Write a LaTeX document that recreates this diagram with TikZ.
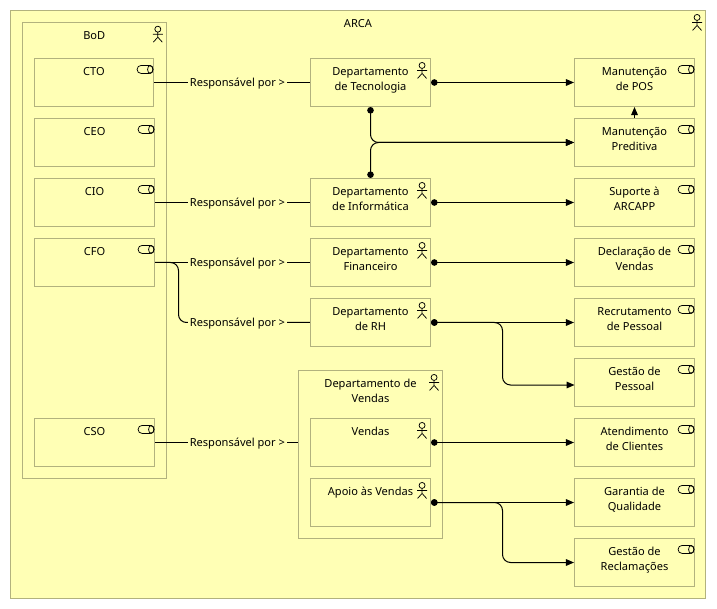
\documentclass[tikz,border=0pt]{standalone}
\usepackage{fontspec}
\setmainfont{Noto Sans}
\usetikzlibrary{arrows.meta}
\definecolor{ayellow}{HTML}{FFFFB5}
\definecolor{aedge}{HTML}{B2B27E}
\tikzset{
  % Yellow element box, 120 x 48 px unless widened.
  bx/.style    = {rectangle, draw=aedge, fill=ayellow, line width=0.85pt,
                  minimum width=90pt, minimum height=36pt, inner sep=0pt},
  ttl/.style   = {anchor=north, inner sep=0pt, yshift=-5.25pt, align=center,
                  font=\fontsize{8.3}{11.25}\selectfont, execute at begin node=\strut},
  two/.style   = {yshift=-1.5pt},
  rel/.style   = {fill=ayellow, inner xsep=1.5pt, inner ysep=1pt, yshift=-0.9pt,
                  font=\fontsize{8.3}{11.25}\selectfont},
  lnk/.style   = {line width=0.75pt, black},
  flow/.style  = {{Circle[length=4.9pt]}-{Triangle[length=6pt,width=5pt]}, lnk},
  icon/.style  = {line width=0.55pt, black},
  actor/.pic   = {
    \draw[icon] (-9,7.5) circle (3);
    \draw[icon] (-9,10.5) -- (-9,15.5) (-14,12.5) -- (-4,12.5)
                (-13.5,20.5) -- (-9,15.5) -- (-4.5,20.5);
  },
  svc/.pic     = {
    \draw[icon, rounded corners=3pt] (-17,7.5) rectangle (-1,15.5);
    \draw[icon] (-3.8,11.5) ellipse (2.7 and 4);
  },
}
\begin{document}
\begin{tikzpicture}[x=0.75pt,y=-0.75pt]
\useasboundingbox (0,0) rectangle (717,609);
% outer group
\node[bx, minimum width=521.25pt, minimum height=441pt] (arca) at (358,304.5) {};
\node[ttl] (arcaT) at (arca.north) {ARCA};
\pic at (arca.north east) {actor};
% board
\node[bx, minimum width=108pt, minimum height=342pt] (bod) at (94.25,250.25) {};
\node[ttl] (bodT) at (bod.north) {BoD};
\pic at (bod.north east) {actor};
\node[bx, minimum width=89.25pt] (cto) at (94,82.5) {};
\node[ttl] (ctoT) at (cto.north) {CTO};
\pic at (cto.north east) {svc};
\node[bx] (ceo) at (94.5,142.5) {};
\node[ttl] (ceoT) at (ceo.north) {CEO};
\pic at (ceo.north east) {svc};
\node[bx] (cio) at (94.5,202.5) {};
\node[ttl] (cioT) at (cio.north) {CIO};
\pic at (cio.north east) {svc};
\node[bx] (cfo) at (94.5,262.5) {};
\node[ttl] (cfoT) at (cfo.north) {CFO};
\pic at (cfo.north east) {svc};
\node[bx] (cso) at (94.5,442.5) {};
\node[ttl] (csoT) at (cso.north) {CSO};
\pic at (cso.north east) {svc};
% departments
\node[bx] (tec) at (370.5,82.5) {};
\node[ttl, two] (tecT) at (tec.north) {Departamento\\de Tecnologia};
\pic at (tec.north east) {actor};
\node[bx] (inf) at (370.5,202.5) {};
\node[ttl, two] (infT) at (inf.north) {Departamento\\de Informática};
\pic at (inf.north east) {actor};
\node[bx] (fin) at (370.5,262.5) {};
\node[ttl, two] (finT) at (fin.north) {Departamento\\Financeiro};
\pic at (fin.north east) {actor};
\node[bx] (rh) at (370.5,322.5) {};
\node[ttl, two] (rhT) at (rh.north) {Departamento\\de RH};
\pic at (rh.north east) {actor};
\node[bx, minimum width=108pt, minimum height=126pt] (dven) at (370.5,454.5) {};
\node[ttl, two] (dvenT) at (dven.north) {Departamento de\\Vendas};
\pic at (dven.north east) {actor};
\node[bx] (ven) at (370.5,442.5) {};
\node[ttl] (venT) at (ven.north) {Vendas};
\pic at (ven.north east) {actor};
\node[bx] (apo) at (370.5,502.5) {};
\node[ttl] (apoT) at (apo.north) {Apoio às Vendas};
\pic at (apo.north east) {actor};
% services
\node[bx] (pos) at (634.5,82.5) {};
\node[ttl, two] (posT) at (pos.north) {Manutenção\\de POS};
\pic at (pos.north east) {svc};
\node[bx] (pre) at (634.5,142.5) {};
\node[ttl, two] (preT) at (pre.north) {Manutenção\\Preditiva};
\pic at (pre.north east) {svc};
\node[bx] (sup) at (634.5,202.5) {};
\node[ttl, two] (supT) at (sup.north) {Suporte à\\ARCAPP};
\pic at (sup.north east) {svc};
\node[bx] (dec) at (634.5,262.5) {};
\node[ttl, two] (decT) at (dec.north) {Declaração de\\Vendas};
\pic at (dec.north east) {svc};
\node[bx] (rec) at (634.5,322.5) {};
\node[ttl, two] (recT) at (rec.north) {Recrutamento\\de Pessoal};
\pic at (rec.north east) {svc};
\node[bx] (ges) at (634.5,382.5) {};
\node[ttl, two] (gesT) at (ges.north) {Gestão de\\Pessoal};
\pic at (ges.north east) {svc};
\node[bx] (ate) at (634.5,442.5) {};
\node[ttl, two] (ateT) at (ate.north) {Atendimento\\de Clientes};
\pic at (ate.north east) {svc};
\node[bx] (gar) at (634.5,502.5) {};
\node[ttl, two] (garT) at (gar.north) {Garantia de\\Qualidade};
\pic at (gar.north east) {svc};
\node[bx] (rcl) at (634.5,562.5) {};
\node[ttl, two] (rclT) at (rcl.north) {Gestão de\\Reclamações};
\pic at (rcl.north east) {svc};
% responsibility lines
\draw[lnk] (cto.east) -- node[rel, pos=.535] (relTec) {Responsável por >} (tec.west);
\draw[lnk] (cio.east) -- node[rel, pos=.532] (relInf) {Responsável por >} (inf.west);
\draw[lnk] (cfo.east) -- (fin.west);
\coordinate (cfoBend) at (178.5,292);
\draw[lnk, rounded corners=6pt] (cfo.east) -| (cfoBend) |- (rh.west);
\node[rel] (relFin) at (237.5,262.5) {Responsável por >};
\node[rel] (relRh) at (237.5,322.5) {Responsável por >};
\draw[lnk] (cso.east) -- node[rel, pos=.576] (relVen) {Responsável por >} (cso.east -| dven.west);
% flows
\draw[flow] (tec.east) -- (pos.west);
\draw[flow, rounded corners=6pt] (tec.south) |- (pre.west);
\draw[flow, rounded corners=6pt] (inf.north) |- (pre.west);
\draw[-{Triangle[length=6pt,width=5pt]}, lnk] (pre.north) -- (pos.south);
\draw[flow] (inf.east) -- (sup.west);
\draw[flow] (fin.east) -- (dec.west);
\draw[flow] (rh.east) -- (rec.west);
\coordinate (rhBend) at (502.5,350);
\coordinate (gesIn) at (574.5,385);
\draw[flow, rounded corners=6pt] (rh.east) -| (rhBend) |- (gesIn);
\draw[flow] (ven.east) -- (ate.west);
\draw[flow] (apo.east) -- (gar.west);
\coordinate (apoBend) at (502.5,530);
\draw[flow, rounded corners=6pt] (apo.east) -| (apoBend) |- (rcl.west);
\end{tikzpicture}
\end{document}
